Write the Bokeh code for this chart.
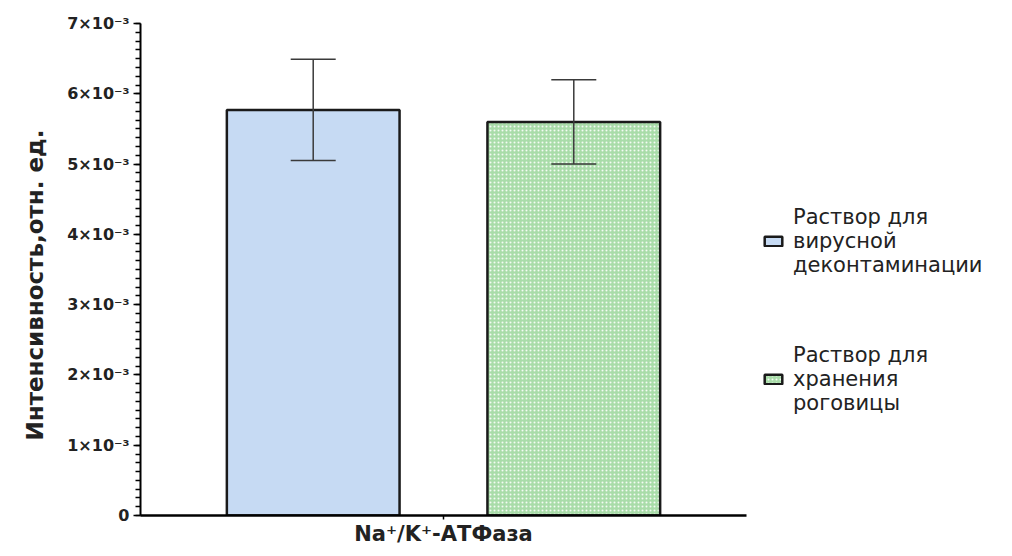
from bokeh.plotting import figure
from bokeh.models import (ColumnDataSource, Range1d, FixedTicker, CustomJSTickFormatter,
                          Whisker, TeeHead, Legend, LegendItem, Title)
from bokeh.embed import file_html
from bokeh.resources import INLINE

# ---- data ----
category = "Na⁺/K⁺-АТФаза"
series = ["Раствор для\nвирусной\nдеконтаминации", "Раствор для\nхранения\nроговицы"]
means = [5.77e-3, 5.60e-3]
errors = [0.72e-3, 0.60e-3]
fills = ["#c6daf3", "#a9dca9"]
y_ticks = [0, 1e-3, 2e-3, 3e-3, 4e-3, 5e-3, 6e-3, 7e-3]
y_label = "Интенсивность,отн. ед."

FONT = "DejaVu Sans"

group_center = 0.5
offset = 0.43
bar_w = 0.285
xs = [group_center + (i - (len(series) - 1) / 2) * offset for i in range(len(series))]

# frame spans the axis part (0..1) plus room on the right for the legend
x_end = 864 / 606

p = figure(width=1004, height=548, output_backend="svg", toolbar_location=None,
           x_range=Range1d(0, x_end), y_range=Range1d(0, 7e-3),
           min_border_left=140, min_border_top=23, min_border_bottom=30, min_border_right=0)
p.outline_line_color = None
p.xgrid.visible = False
p.ygrid.visible = False

renderers = []
for i, name in enumerate(series):
    src = ColumnDataSource(dict(x=[xs[i]], top=[means[i]],
                                upper=[means[i] + errors[i]], lower=[means[i] - errors[i]]))
    kw = dict(x="x", top="top", bottom=0, width=bar_w, source=src,
              fill_color=fills[i], line_color="#1a1a1a", line_width=2.5)
    if i == 1:
        kw.update(hatch_pattern="dot", hatch_color="#f4fbf4", hatch_scale=4, hatch_weight=2)
    r = p.vbar(**kw)
    renderers.append(r)
    w = Whisker(base="x", upper="upper", lower="lower", source=src, level="overlay",
                line_color="#3a3a3a", line_width=1.5,
                upper_head=TeeHead(size=45, line_color="#3a3a3a", line_width=1.5),
                lower_head=TeeHead(size=45, line_color="#3a3a3a", line_width=1.5))
    p.add_layout(w)

# y axis
ya = p.yaxis[0]
ya.ticker = FixedTicker(ticks=y_ticks,
                        minor_ticks=[k * 0.125e-3 for k in range(57)])
ya.formatter = CustomJSTickFormatter(code="""
    if (Math.abs(tick) < 1e-12) return "0";
    return Math.round(tick * 1000) + "×10⁻³";
""")
ya.major_label_text_font = FONT
ya.major_label_text_font_style = "bold"
ya.major_label_text_font_size = "16px"
ya.major_label_text_color = "#222222"
ya.axis_line_width = 2
ya.major_tick_line_width = 1.5
ya.minor_tick_line_width = 1.5
ya.major_tick_out = 7
ya.major_tick_in = 0
ya.minor_tick_out = 5
ya.minor_tick_in = 0
ya.major_label_standoff = 4

# y axis title (as a left-side title so that it can be shifted along the axis)
ytitle = Title(text=y_label, align="left", offset=75, standoff=34,
               text_font=FONT, text_font_style="bold", text_font_size="23px",
               text_color="#222222")
p.add_layout(ytitle, "left")

# x axis (line limited to the bar region)
xa = p.xaxis[0]
xa.bounds = (0, 1)
xa.ticker = FixedTicker(ticks=[group_center])
xa.major_label_overrides = {group_center: category}
xa.major_label_text_font = FONT
xa.major_label_text_font_style = "bold"
xa.major_label_text_font_size = "21px"
xa.major_label_text_color = "#222222"
xa.axis_line_width = 2.5
xa.major_tick_line_width = 1.5
xa.major_tick_out = 4
xa.major_tick_in = 0
xa.minor_tick_out = 0
xa.minor_tick_in = 0
xa.major_label_standoff = 2

legend = Legend(items=[LegendItem(label=series[i], renderers=[renderers[i]]) for i in range(len(series))],
                location=(622, 100), orientation="vertical",
                label_text_font=FONT, label_text_font_size="21px", label_text_color="#222222",
                label_text_line_height=1.2,
                glyph_width=22, glyph_height=12, label_standoff=9, spacing=66,
                padding=0, margin=0, border_line_color=None, background_fill_alpha=0)
p.add_layout(legend)

open("out.html", "w").write(file_html(p, INLINE))
